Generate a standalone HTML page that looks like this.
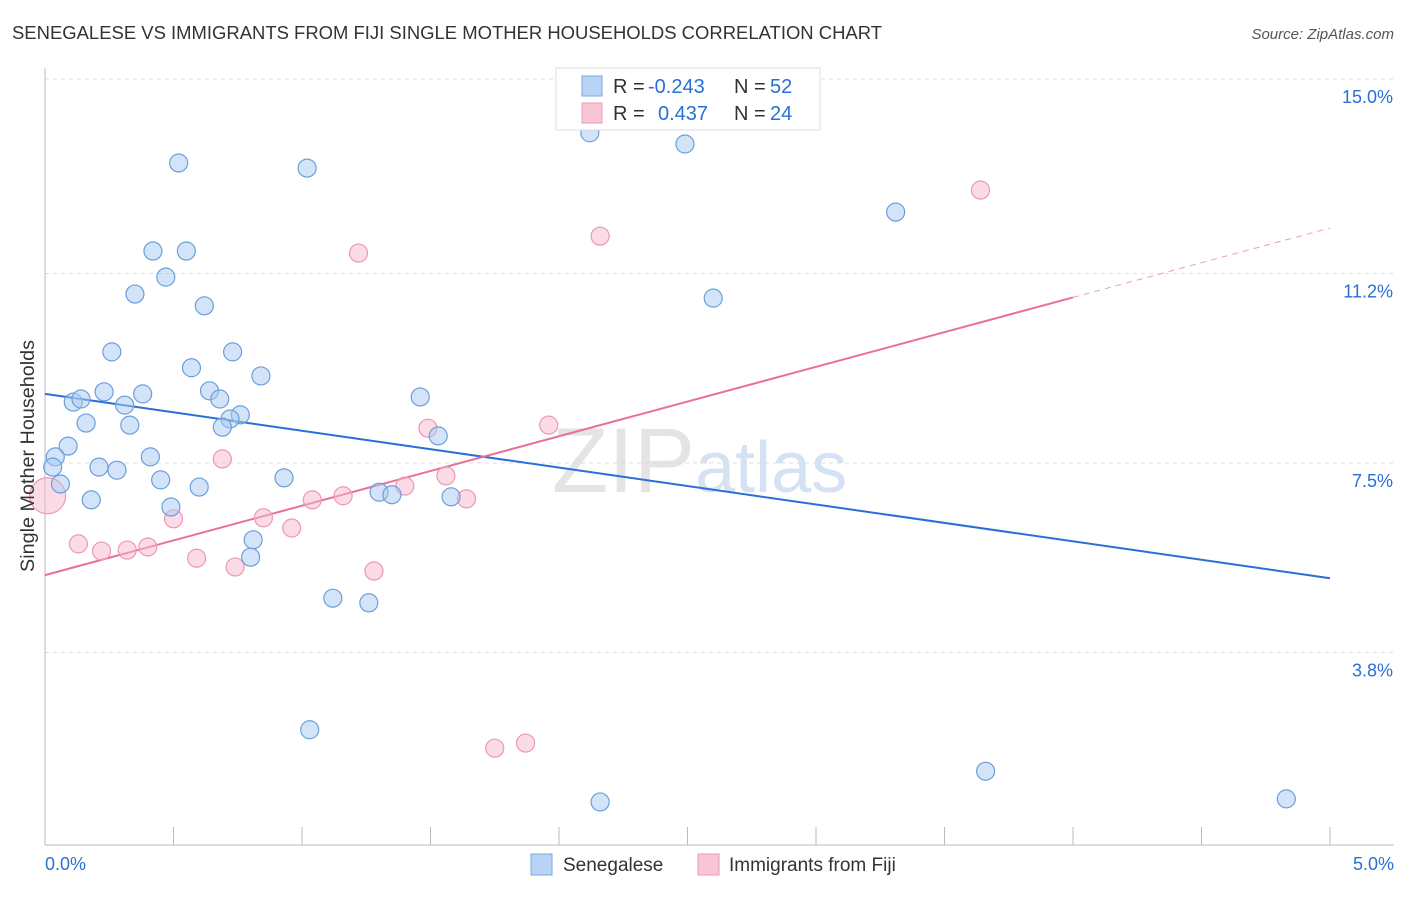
<!DOCTYPE html>
<html><head><meta charset="utf-8"><style>
body{margin:0;background:#fff;font-family:"Liberation Sans",sans-serif;}
svg text{font-family:"Liberation Sans",sans-serif;}
</style></head><body>
<svg id="chart" width="1406" height="892" xmlns="http://www.w3.org/2000/svg">
<text x="12" y="39" font-size="18" fill="#333" textLength="870" lengthAdjust="spacingAndGlyphs">SENEGALESE VS IMMIGRANTS FROM FIJI SINGLE MOTHER HOUSEHOLDS CORRELATION CHART</text>
<text x="1394" y="39" font-size="15" fill="#555" text-anchor="end" font-style="italic">Source: ZipAtlas.com</text>
<text x="552" y="492" font-size="92" fill="#e4e4e4" font-family="Liberation Serif">ZIP<tspan fill="#d4e2f4" font-family="Liberation Sans" font-size="72">atlas</tspan></text>
<g id="grid"></g>
<g id="axes"></g>
<g id="trends"></g>
<g id="pts"></g>
<text transform="translate(34,456) rotate(-90)" font-size="19" fill="#333" text-anchor="middle" textLength="232" lengthAdjust="spacingAndGlyphs">Single Mother Households</text>
<g>
<rect x="556" y="68" width="264" height="62" fill="#fff" stroke="#ddd"/>
<rect x="582" y="76" width="20" height="20" fill="#b8d3f5" stroke="#7aa8e0"/>
<rect x="582" y="103" width="20" height="20" fill="#f9c6d6" stroke="#eb9ab4"/>
<text x="613" y="93" font-size="20" fill="#333">R =</text>
<text x="648" y="93" font-size="20" fill="#2a6fd6">-0.243</text>
<text x="734" y="93" font-size="20" fill="#333">N =</text>
<text x="770" y="93" font-size="20" fill="#2a6fd6">52</text>
<text x="613" y="120" font-size="20" fill="#333">R =</text>
<text x="658" y="120" font-size="20" fill="#2a6fd6">0.437</text>
<text x="734" y="120" font-size="20" fill="#333">N =</text>
<text x="770" y="120" font-size="20" fill="#2a6fd6">24</text>
</g>
<g>
<rect x="531" y="854" width="21" height="21" fill="#b8d3f5" stroke="#7aa8e0"/>
<text x="563" y="871" font-size="19" fill="#333">Senegalese</text>
<rect x="698" y="854" width="21" height="21" fill="#f9c6d6" stroke="#eb9ab4"/>
<text x="729" y="871" font-size="19" fill="#333">Immigrants from Fiji</text>
</g>
</svg>
<script>
const blueX=[0.52,1.02,2.12,2.49,3.31,0.42,0.55,0.47,0.35,0.62,2.60,0.26,0.73,0.57,0.84,0.23,0.38,0.64,0.11,0.14,0.31,0.68,1.46,0.76,0.72,0.16,0.33,0.69,1.53,0.09,0.04,0.41,0.03,0.21,0.28,0.06,0.45,0.60,0.93,0.18,0.49,1.30,1.35,1.58,0.81,0.80,1.12,1.26,1.03,3.66,2.16,4.83];
const blueY=[13.36,13.26,13.95,13.73,12.40,11.64,11.64,11.13,10.80,10.57,10.72,9.67,9.67,9.36,9.20,8.89,8.85,8.91,8.69,8.75,8.63,8.75,8.79,8.44,8.36,8.28,8.24,8.20,8.03,7.83,7.62,7.62,7.42,7.42,7.36,7.09,7.17,7.03,7.21,6.78,6.64,6.93,6.88,6.84,6.00,5.66,4.86,4.77,2.29,1.48,0.88,0.94];
const pinkX=[3.64,2.16,1.22,1.96,1.49,0.69,1.56,1.40,1.16,1.04,1.64,0.01,0.50,0.85,0.96,0.13,0.22,0.32,0.40,0.59,0.74,1.28,1.75,1.87];
const pinkY=[12.83,11.93,11.60,8.24,8.18,7.58,7.25,7.05,6.86,6.78,6.80,6.86,6.41,6.43,6.23,5.92,5.78,5.80,5.86,5.64,5.47,5.39,1.93,2.03];
const pinkSize=[1,1,1,1,1,1,1,1,1,1,1,2,1,1,1,1,1,1,1,1,1,1,1,1];
const blueTrend=[8.85,-0.72];
const pinkTrend=[5.31,1.356];
const yTicks=[15.0,11.2,7.5,3.8];
const yTickLabels=["15.0%","11.2%","7.5%","3.8%"];
const xTickLabels=["0.0%","5.0%"];
const NS="http://www.w3.org/2000/svg";
const X=v=>45+v*257, Y=v=>79+(15-v)*51.2;
function mk(t,a,p){const e=document.createElementNS(NS,t);for(const k in a)e.setAttribute(k,a[k]);p.appendChild(e);return e;}
const grid=document.getElementById('grid'),axes=document.getElementById('axes'),tr=document.getElementById('trends'),pts=document.getElementById('pts');
yTicks.forEach((v,i)=>{
 const l=mk('line',{x1:45,x2:1394,y1:Y(v),y2:Y(v),stroke:'#ddd','stroke-dasharray':'4,4'},grid);
 
 
 const t=mk('text',{x:1393,y:Y(v)+24,'font-size':18,fill:'#2a6fd6','text-anchor':'end'},axes);
 t.textContent=yTickLabels[i];
 
 
});
mk('line',{x1:45,x2:45,y1:68,y2:845,stroke:'#bbb'},axes);
mk('line',{x1:45,x2:1394,y1:845,y2:845,stroke:'#bbb'},axes);
for(let i=0;i<=10;i++){const tk=mk('line',{x1:X(i*0.5),x2:X(i*0.5),y1:827,y2:845,stroke:'#bbb'},axes);
 
 }
[[0,'start',45],[5,'end',1394]].forEach((d,i)=>{const t=mk('text',{x:d[2],y:870,'font-size':18,fill:'#2a6fd6','text-anchor':d[1]},axes);t.textContent=xTickLabels[i];
 
 });
const bl=mk('line',{x1:X(0),y1:Y(blueTrend[0]),x2:X(5),y2:Y(blueTrend[0]+5*blueTrend[1]),stroke:'#2a6fd6','stroke-width':2},tr);


const pl=mk('line',{x1:X(0),y1:Y(pinkTrend[0]),x2:X(4),y2:Y(pinkTrend[0]+4*pinkTrend[1]),stroke:'#e8709a','stroke-width':2},tr);


const pd=mk('line',{x1:X(4),y1:Y(pinkTrend[0]+4*pinkTrend[1]),x2:X(5),y2:Y(pinkTrend[0]+5*pinkTrend[1]),stroke:'#e8a0b8','stroke-width':1,'stroke-dasharray':'6,5'},tr);


pinkX.forEach((x,i)=>{const c=mk('circle',{cx:X(x),cy:Y(pinkY[i]),r:pinkSize[i]>1?18:9,fill:'#f7b9cd','fill-opacity':0.5,stroke:'#eb98b3','stroke-width':1.2},pts);
 
 });
blueX.forEach((x,i)=>{const c=mk('circle',{cx:X(x),cy:Y(blueY[i]),r:9,fill:'#a9c9f2','fill-opacity':0.5,stroke:'#6a9fdc','stroke-width':1.2},pts);
 
 });
</script>
</body></html>
